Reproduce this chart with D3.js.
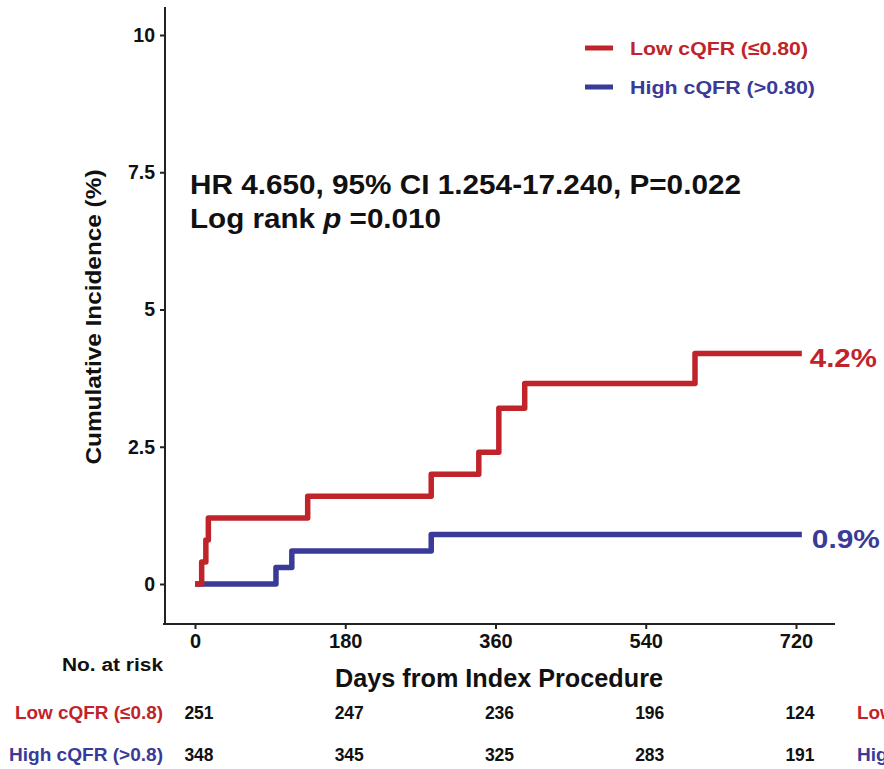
<!DOCTYPE html>
<html><head><meta charset="utf-8">
<script src="https://cdn.jsdelivr.net/npm/d3@7"></script>
<style>
html,body{margin:0;padding:0;background:#fff;}
text{font-family:"Liberation Sans",Arial,sans-serif;font-weight:bold;}
</style></head>
<body>
<svg id="chart" width="884" height="769"></svg>
<script>
// ---- data ----
const lowDays   = [0, 8, 13, 16, 135, 283, 340, 364, 395, 599, 727];
const lowVals   = [0, 0.4, 0.8, 1.2, 1.6, 2.0, 2.4, 3.2, 3.65, 4.2, 4.2];
const highDays  = [0, 97, 116, 283, 727];
const highVals  = [0, 0.3, 0.6, 0.9, 0.9];
const xTicks = [0, 180, 360, 540, 720];
const yTicks = [0, 2.5, 5, 7.5, 10];
const seriesNames = ["Low cQFR (\u22640.80)", "High cQFR (>0.80)"];
const riskNames = ["Low cQFR (\u22640.8)", "High cQFR (>0.8)"];
const riskLow  = [251, 247, 236, 196, 124];
const riskHigh = [348, 345, 325, 283, 191];
const endLabels = ["4.2%", "0.9%"];
const statLine1 = "HR 4.650, 95% CI 1.254-17.240, P=0.022";

const RED = "#c1232b", BLUE = "#3a3a98";
const svg = d3.select("#chart");
const x = d3.scaleLinear().domain([0, 720]).range([195, 796]);
const y = d3.scaleLinear().domain([0, 10]).range([584, 35]);
const axisX = 165, axisY = 624;
const fit = (sel, len) => sel.attr("textLength", len).attr("lengthAdjust", "spacingAndGlyphs");

// axes lines
svg.append("line").attr("x1", axisX).attr("x2", axisX).attr("y1", 7).attr("y2", axisY + 1)
  .attr("stroke", "#222").attr("stroke-width", 2);
svg.append("line").attr("x1", axisX - 2).attr("x2", 835).attr("y1", axisY).attr("y2", axisY)
  .attr("stroke", "#222").attr("stroke-width", 2);

const gy = svg.append("g").attr("transform", `translate(${axisX},0)`)
  .call(d3.axisLeft(y).tickValues(yTicks).tickSize(5).tickPadding(5).tickFormat(d3.format("")));
gy.select(".domain").remove();
gy.selectAll(".tick line").attr("stroke", "#222").attr("stroke-width", 2);
gy.selectAll(".tick text").attr("font-size", 19.5).attr("fill", "#111")
  .style("font-family", "'Liberation Sans',Arial,sans-serif").style("font-weight", "bold");

const gx = svg.append("g").attr("transform", `translate(0,${axisY})`)
  .call(d3.axisBottom(x).tickValues(xTicks).tickSize(5).tickPadding(5));
gx.select(".domain").remove();
gx.selectAll(".tick line").attr("stroke", "#222").attr("stroke-width", 2);
gx.selectAll(".tick text").attr("font-size", 20).attr("fill", "#111")
  .style("font-family", "'Liberation Sans',Arial,sans-serif").style("font-weight", "bold");

// axis titles
fit(svg.append("text").attr("transform", `translate(101,317) rotate(-90)`)
  .attr("text-anchor", "middle").attr("font-size", 22).attr("fill", "#111")
  .text("Cumulative Incidence (%)"), 295);
fit(svg.append("text").attr("x", 499).attr("y", 687)
  .attr("text-anchor", "middle").attr("font-size", 25).attr("fill", "#111")
  .text("Days from Index Procedure"), 328);

// curves
const line = d3.line().x(d => x(d[0])).y(d => y(d[1])).curve(d3.curveStepAfter);
const lowData = lowDays.map((d, i) => [d, lowVals[i]]);
const highData = highDays.map((d, i) => [d, highVals[i]]);
svg.append("path").datum(highData).attr("d", line).attr("fill", "none")
  .attr("stroke", BLUE).attr("stroke-width", 5.5).attr("stroke-linejoin", "round");
svg.append("path").datum(lowData).attr("d", line).attr("fill", "none")
  .attr("stroke", RED).attr("stroke-width", 5.5).attr("stroke-linejoin", "round");

// end labels
fit(svg.append("text").attr("x", x(lowDays[lowDays.length - 1]) + 8).attr("y", y(lowVals[lowVals.length - 1]) + 13.5)
  .attr("font-size", 26).attr("fill", RED).text(endLabels[0]), 67);
fit(svg.append("text").attr("x", x(highDays[highDays.length - 1]) + 10).attr("y", y(highVals[highVals.length - 1]) + 13)
  .attr("font-size", 26).attr("fill", BLUE).text(endLabels[1]), 68);

// stats text
fit(svg.append("text").attr("x", 190).attr("y", 194).attr("font-size", 27.5).attr("fill", "#111").text(statLine1), 551);
const t2 = svg.append("text").attr("x", 190).attr("y", 228).attr("font-size", 27.5).attr("fill", "#111");
t2.append("tspan").text("Log rank ");
t2.append("tspan").attr("font-style", "italic").text("p");
t2.append("tspan").text(" =0.010");
fit(t2, 251);

// legend
[RED, BLUE].forEach((c, i) => {
  const ly = 48 + i * 39;
  svg.append("line").attr("x1", 585).attr("x2", 613).attr("y1", ly).attr("y2", ly)
    .attr("stroke", c).attr("stroke-width", 5);
  fit(svg.append("text").attr("x", 630).attr("y", ly + 7)
    .attr("font-size", 19).attr("fill", c).text(seriesNames[i]), i === 0 ? 178 : 185);
});

// risk table
fit(svg.append("text").attr("x", 62).attr("y", 671)
  .attr("font-size", 18).attr("fill", "#111").text("No.  at risk"), 101);
[[riskLow, RED, 719], [riskHigh, BLUE, 761]].forEach(([vals, c, ry], i) => {
  fit(svg.append("text").attr("x", i === 0 ? 15 : 9).attr("y", ry)
    .attr("font-size", 19).attr("fill", c).text(riskNames[i]), i === 0 ? 148 : 154);
  vals.forEach((v, j) => {
    svg.append("text").attr("x", x(xTicks[j]) + 4).attr("y", ry)
      .attr("text-anchor", "middle").attr("font-size", 17.5).attr("fill", "#111").text(v);
  });
  fit(svg.append("text").attr("x", 857).attr("y", ry)
    .attr("font-size", 19).attr("fill", c).text(riskNames[i]), i === 0 ? 148 : 154);
});
</script>
</body></html>
